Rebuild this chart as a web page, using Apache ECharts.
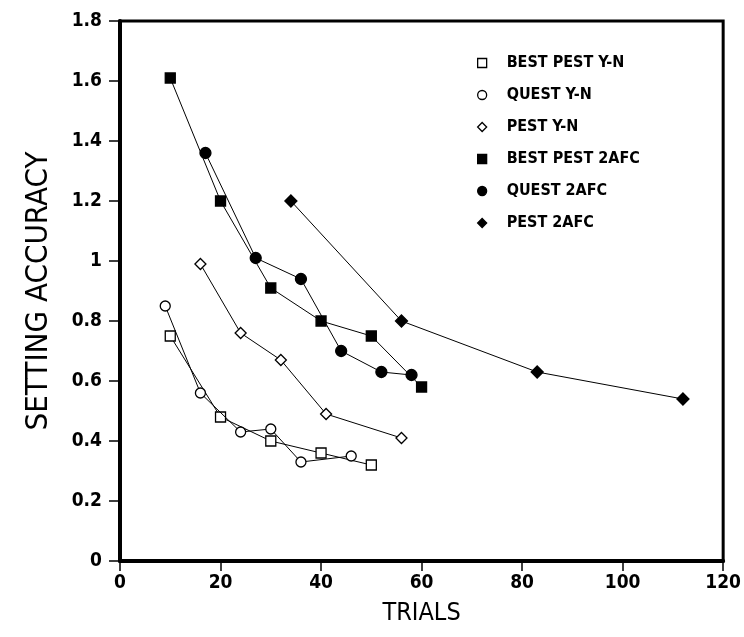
<!DOCTYPE html>
<html>
<head>
<meta charset="utf-8">
<script src="https://cdn.jsdelivr.net/npm/echarts@6/dist/echarts.min.js"></script>
<style>
html,body{margin:0;padding:0;background:#fff;}
#chart{width:744px;height:637px;}
</style>
</head>
<body>
<div id="chart"></div>
<script>
var seriesNames = ["BEST PEST Y-N", "QUEST Y-N", "PEST Y-N", "BEST PEST 2AFC", "QUEST 2AFC", "PEST 2AFC"];
var bestPestYN_x = [10, 20, 30, 40, 50];
var bestPestYN_y = [0.75, 0.48, 0.40, 0.36, 0.32];
var questYN_x = [9, 16, 24, 30, 36, 46];
var questYN_y = [0.85, 0.56, 0.43, 0.44, 0.33, 0.35];
var pestYN_x = [16, 24, 32, 41, 56];
var pestYN_y = [0.99, 0.76, 0.67, 0.49, 0.41];
var bestPest2AFC_x = [10, 20, 30, 40, 50, 60];
var bestPest2AFC_y = [1.61, 1.20, 0.91, 0.80, 0.75, 0.58];
var quest2AFC_x = [17, 27, 36, 44, 52, 58];
var quest2AFC_y = [1.36, 1.01, 0.94, 0.70, 0.63, 0.62];
var pest2AFC_x = [34, 56, 83, 112];
var pest2AFC_y = [1.20, 0.80, 0.63, 0.54];
var xTicks = [0, 20, 40, 60, 80, 100, 120];
var yTicks = [0, 0.2, 0.4, 0.6, 0.8, 1, 1.2, 1.4, 1.6, 1.8];

function pairs(xs, ys){ return xs.map(function(x,i){ return [x, ys[i]]; }); }

var COND = "'DejaVu Sans Condensed', 'Liberation Sans Narrow', sans-serif";
var styles = [
  {symbol:'rect', size:10, fill:'#fff'},
  {symbol:'circle', size:10, fill:'#fff'},
  {symbol:'diamond', size:11, fill:'#fff'},
  {symbol:'rect', size:10, fill:'#000'},
  {symbol:'circle', size:11, fill:'#000'},
  {symbol:'diamond', size:12, fill:'#000'}
];
var datasets = [
  pairs(bestPestYN_x, bestPestYN_y),
  pairs(questYN_x, questYN_y),
  pairs(pestYN_x, pestYN_y),
  pairs(bestPest2AFC_x, bestPest2AFC_y),
  pairs(quest2AFC_x, quest2AFC_y),
  pairs(pest2AFC_x, pest2AFC_y)
];

var series = seriesNames.map(function(n, i){
  return {
    name: n, type: 'line', data: datasets[i],
    symbol: styles[i].symbol, symbolSize: styles[i].size,
    showAllSymbol: true,
    lineStyle: {color:'#000', width:1},
    itemStyle: {color: styles[i].fill, borderColor:'#000', borderWidth: 1.3},
    z: 3 + i
  };
});

var chart = echarts.init(document.getElementById('chart'), null, {renderer:'canvas'});
chart.setOption({
  animation: false,
  backgroundColor: '#fff',
  grid: {left:120, top:21, right:16, bottom:76, show:true, borderColor:'#000', borderWidth:3, backgroundColor:'transparent'},
  legend: {
    orient: 'vertical', left: 472, top: 48, itemGap: 12, itemWidth: 9, itemHeight: 9,
    textStyle: {fontFamily: COND, fontWeight:'bold', fontSize: 16, lineHeight: 20, color:'#000', padding:[0,0,0,15]},
    data: seriesNames.map(function(n,i){
      return {name:n, icon: styles[i].symbol,
        itemStyle:{color: styles[i].fill, borderColor:'#000', borderWidth:1.3}};
    })
  },
  xAxis: {
    type:'value', min: xTicks[0], max: xTicks[xTicks.length-1], interval: 20,
    name: 'TRIALS', nameLocation:'middle', nameGap: 40,
    nameTextStyle: {fontFamily: COND, fontSize: 25, color:'#000'},
    axisLine: {show:true, lineStyle:{color:'#000', width:4}},
    axisTick: {show:true, inside:false, length:10, lineStyle:{color:'#000', width:1.5}},
    axisLabel: {fontFamily: COND, fontWeight:'bold', fontSize:19, color:'#000', margin:13},
    splitLine: {show:false}
  },
  yAxis: {
    type:'value', min: yTicks[0], max: yTicks[yTicks.length-1], interval: 0.2,
    name: 'SETTING ACCURACY', nameLocation:'middle', nameGap: 66, nameRotate: 90,
    nameTextStyle: {fontFamily: COND, fontSize: 31, color:'#000'},
    axisLine: {show:true, lineStyle:{color:'#000', width:4}},
    axisTick: {show:true, inside:false, length:11, lineStyle:{color:'#000', width:1.5}},
    axisLabel: {fontFamily: COND, fontWeight:'bold', fontSize:19, color:'#000', margin:18,
      formatter: function(v){ return String(+v.toFixed(1)); }},
    splitLine: {show:false}
  },
  series: series
});
</script>
</body>
</html>
